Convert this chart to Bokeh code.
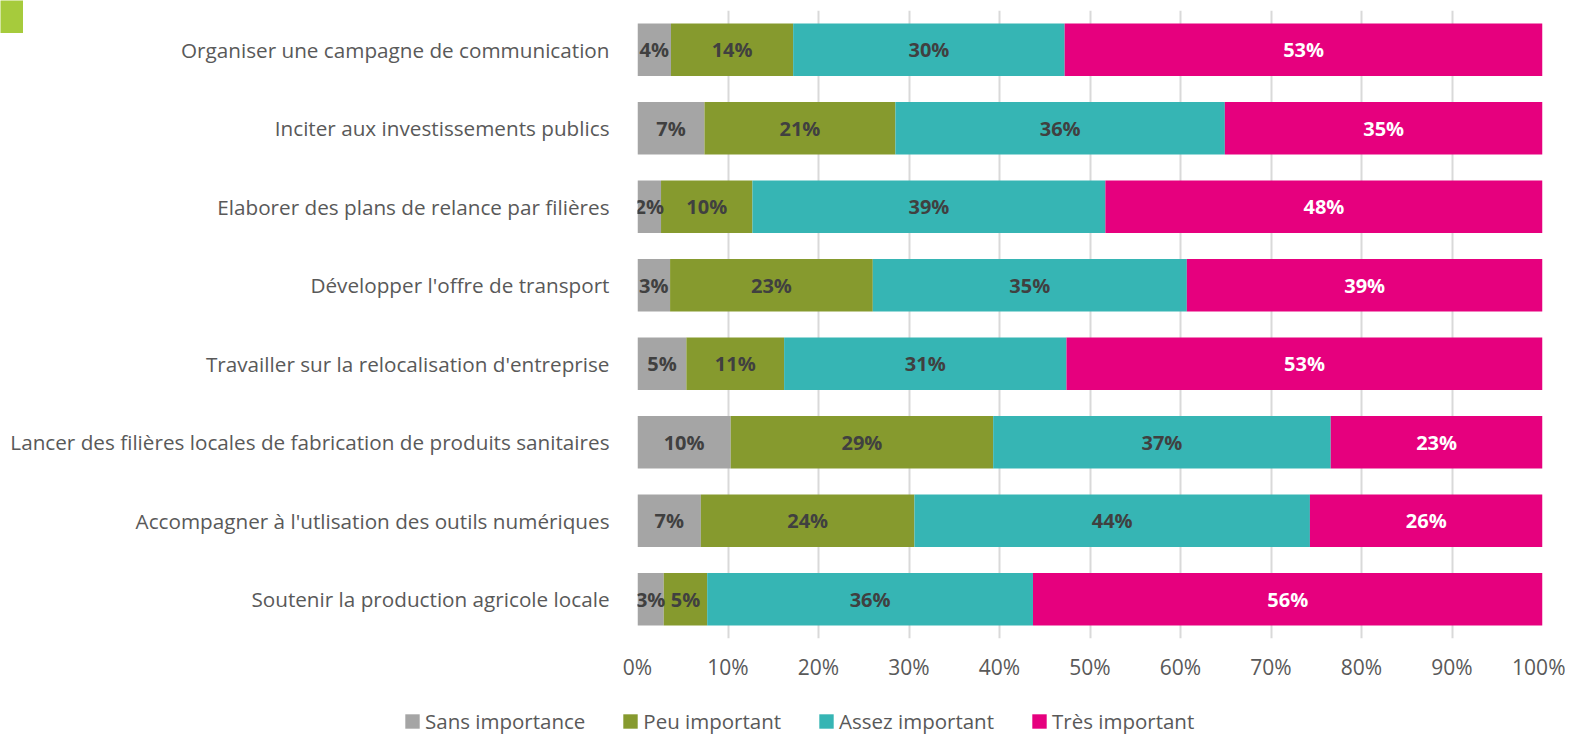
from bokeh.plotting import figure
from bokeh.models import (ColumnDataSource, FactorRange, Range1d, FixedTicker, Legend,
                          LegendItem)
from bokeh.core.properties import value
from bokeh.embed import file_html
from bokeh.resources import INLINE

categories = [
    "Organiser une campagne de communication",
    "Inciter aux investissements publics",
    "Elaborer des plans de relance par filières",
    "Développer l'offre de transport",
    "Travailler sur la relocalisation d'entreprise",
    "Lancer des filières locales de fabrication de produits sanitaires",
    "Accompagner à l'utlisation des outils numériques",
    "Soutenir la production agricole locale",
]
series_names = ["Sans importance", "Peu important", "Assez important", "Très important"]
sans = [3.7, 7.4, 2.6, 3.6, 5.4, 10.3, 7.0, 2.9]
peu = [13.5, 21.1, 10.1, 22.4, 10.8, 29.0, 23.6, 4.8]
assez = [30.0, 36.4, 39.0, 34.7, 31.2, 37.3, 43.7, 36.0]
tres = [52.8, 35.1, 48.3, 39.3, 52.6, 23.4, 25.7, 56.3]
sans_lbl = [4, 7, 2, 3, 5, 10, 7, 3]
peu_lbl = [14, 21, 10, 23, 11, 29, 24, 5]
assez_lbl = [30, 36, 39, 35, 31, 37, 44, 36]
tres_lbl = [53, 35, 48, 39, 53, 23, 26, 56]
tick_values = [0, 10, 20, 30, 40, 50, 60, 70, 80, 90, 100]
tick_labels = ["0%", "10%", "20%", "30%", "40%", "50%", "60%", "70%", "80%", "90%", "100%"]

colors = ["#A5A5A5", "#869A2E", "#36B5B4", "#E6007E"]
label_colors = ["#404040", "#404040", "#404040", "#FFFFFF"]
FONT = "Open Sans"

keys = ["sans", "peu", "assez", "tres"]
source = ColumnDataSource(dict(cat=categories, sans=sans, peu=peu, assez=assez, tres=tres))

W = 1565
p = figure(width=W, height=690, output_backend="svg", toolbar_location=None,
           y_range=FactorRange(factors=list(reversed(categories))),
           x_range=Range1d(0, 100),
           min_border_left=637, min_border_right=W - 1542, min_border_top=10,
           min_border_bottom=52)
p.outline_line_color = None
p.background_fill_color = "white"
p.border_fill_color = None

renderers = p.hbar_stack(keys, y="cat", height=0.667, color=colors, source=source,
                         line_color=None)

vals = [sans, peu, assez, tres]
lbls = [sans_lbl, peu_lbl, assez_lbl, tres_lbl]
for i in range(4):
    xs, ts = [], []
    for j in range(len(categories)):
        left = sum(vals[k][j] for k in range(i))
        xs.append(left + vals[i][j] / 2.0)
        ts.append(f"{lbls[i][j]}%")
    src = ColumnDataSource(dict(x=xs, y=categories, t=ts))
    p.text(x="x", y="y", text="t", source=src, text_align="center", text_baseline="middle",
           text_font=value(FONT), text_font_style="bold", text_font_size="20px",
           text_color=label_colors[i])

p.xaxis.ticker = FixedTicker(ticks=tick_values)
p.xaxis.major_label_overrides = {v: l for v, l in zip(tick_values, tick_labels)}
for ax in (p.xaxis, p.yaxis):
    ax.axis_line_color = None
    ax.major_tick_line_color = None
    ax.minor_tick_line_color = None
    ax.major_label_text_font = FONT
    ax.major_label_text_color = "#595959"
p.yaxis.major_label_text_font_size = "20.7px"
p.xaxis.major_label_text_font_size = "21px"
p.yaxis.major_label_standoff = 22
p.xaxis.major_label_standoff = 8
p.ygrid.grid_line_color = None
p.xgrid.grid_line_color = "#D9D9D9"
p.xgrid.grid_line_width = 2

# legend strip below the chart (separate root, positioned independently)
lg = figure(width=W, height=45, output_backend="svg", toolbar_location=None,
            x_axis_type=None, y_axis_type=None, x_range=Range1d(0, 1), y_range=Range1d(0, 1),
            min_border=0,
            styles={"position": "absolute", "left": "0px", "top": "690px"})
lg.outline_line_color = None
lg.border_fill_color = None
lg_src = ColumnDataSource(dict(y=[0.5], l=[0.0], r=[0.0]))
lg_renderers = [lg.hbar(y="y", left="l", right="r", height=0.0, color=c, line_color=None,
                        source=lg_src) for c in colors]
legend = Legend(items=[LegendItem(label=n, renderers=[r]) for n, r in zip(series_names, lg_renderers)],
                orientation="horizontal", location=(403, 0),
                glyph_width=18, glyph_height=18, label_standoff=4, spacing=36,
                padding=0, margin=0, border_line_color=None, background_fill_alpha=0,
                label_text_font=FONT, label_text_font_size="20.5px", label_text_color="#595959",
                label_height=20)
lg.add_layout(legend)

# green corner decoration
corner = figure(width=23, height=33, output_backend="svg", toolbar_location=None,
                x_axis_type=None, y_axis_type=None, min_border=0,
                styles={"position": "absolute", "left": "0px", "top": "0px", "z-index": "5"})
corner.outline_line_color = None
corner.background_fill_color = "#A6CB3C"
corner.border_fill_color = "#A6CB3C"

open("out.html", "w").write(file_html([p, lg, corner], INLINE))
